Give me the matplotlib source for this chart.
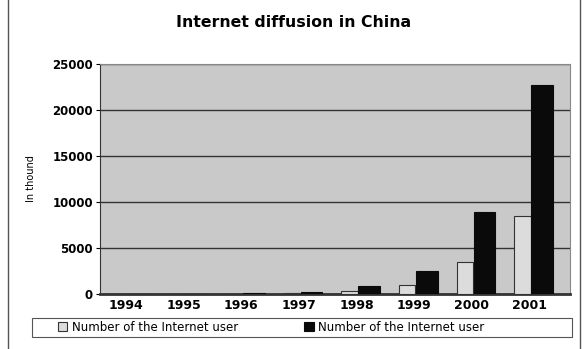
import numpy as np
import matplotlib.pyplot as plt
from matplotlib.lines import Line2D
from matplotlib.patches import Rectangle

# datos (miles)
years = ['1994', '1995', '1996', '1997', '1998', '1999', '2000', '2001']
users_light = [5, 10, 30, 100, 300, 1000, 3500, 8500]
users_dark = [2, 8, 40, 150, 800, 2500, 8900, 22700]
yticks = [0, 5000, 10000, 15000, 20000, 25000]

x = np.arange(len(years))

fig = plt.figure(figsize=(5.88, 3.49), dpi=100, facecolor='w')
ax = fig.add_axes([0.170, 0.158, 0.799, 0.659], facecolor='#c9c9c9')

ax.bar(x - 0.12, users_light, 0.28, color='#dcdcdc', edgecolor='#333333', lw=0.8,
       label='Number of the Internet user', zorder=3)
ax.bar(x + 0.22, users_dark, 0.38, color='#0a0a0a', edgecolor='#0a0a0a', lw=0.8,
       label='Number of the Internet user', zorder=3)

ax.set_xlim(-0.45, 7.7)
ax.set_ylim(0, 25000)
ax.set_yticks(yticks)
ax.set_xticks(x)
ax.set_xticklabels(years, fontsize=9, fontweight='bold')
ax.set_yticklabels([str(v) for v in yticks], fontsize=8.5, fontweight='bold')
ax.yaxis.grid(True, color='#333333', lw=1.0, zorder=1)
ax.set_axisbelow(True)
ax.tick_params(axis='x', length=0, pad=4)
ax.tick_params(axis='y', length=3, pad=2)
for s in ('top', 'right'):
    ax.spines[s].set_color('#888888')
ax.spines['left'].set_color('#333333')
ax.spines['bottom'].set_color('#333333')
ax.spines['bottom'].set_linewidth(2)

ax.set_ylabel('In thound', fontsize=7, labelpad=12)

fig.text(0.5, 0.935, 'Internet diffusion in China', ha='center', va='center',
         fontsize=11.3, fontweight='bold')

# bordes de la pagina
fig.add_artist(Line2D([0.014, 0.014], [0.0, 1.0], color='#555555', lw=1))
fig.add_artist(Line2D([0.987, 0.987], [0.0, 1.0], color='#555555', lw=1))

# caja de la leyenda
fig.add_artist(Rectangle((32 / 588, 1 - 337 / 349), 540 / 588, 19 / 349,
                         transform=fig.transFigure, fill=False,
                         edgecolor='#555555', lw=0.8))
leg = fig.legend(loc='center left', bbox_to_anchor=(0.088, 1 - 327.5 / 349),
                 ncol=2, fontsize=8.5, frameon=False,
                 handlelength=0.8, handleheight=0.8, borderpad=0.0,
                 handletextpad=0.4, columnspacing=5.6)

fig.savefig('out.png', dpi=100)
